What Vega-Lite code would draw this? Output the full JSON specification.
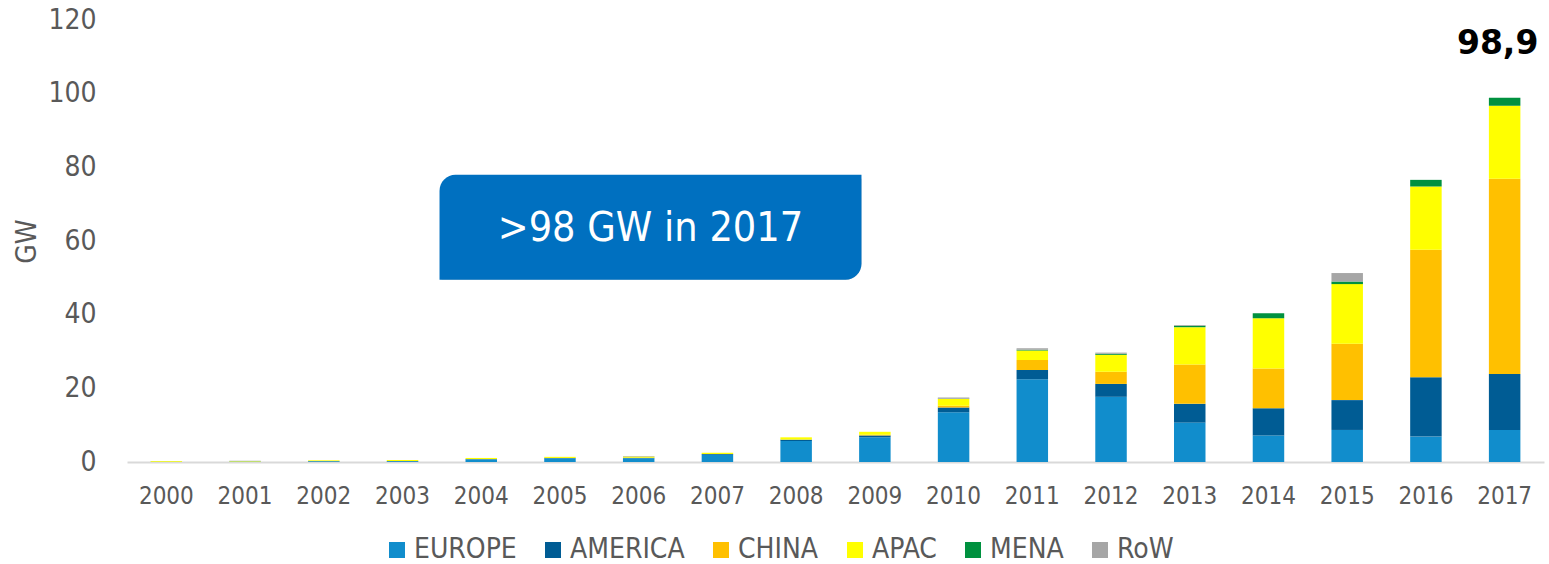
{
  "$schema": "https://vega.github.io/schema/vega-lite/v6.json",
  "autosize": {"type": "none"},
  "width": 1417,
  "height": 442,
  "padding": {"left": 127, "top": 20, "right": 5, "bottom": 102},
  "background": "white",
  "config": {
    "view": {"stroke": null},
    "font": "DejaVu Sans Condensed"
  },
  "datasets": {
    "pv": [
      {"year": "2000", "region": "EUROPE", "o": 1, "gw": 0.1},
      {"year": "2000", "region": "APAC", "o": 4, "gw": 0.15},
      {"year": "2000", "region": "RoW", "o": 6, "gw": 0.05},
      {"year": "2001", "region": "EUROPE", "o": 1, "gw": 0.15},
      {"year": "2001", "region": "APAC", "o": 4, "gw": 0.15},
      {"year": "2001", "region": "RoW", "o": 6, "gw": 0.05},
      {"year": "2002", "region": "EUROPE", "o": 1, "gw": 0.2},
      {"year": "2002", "region": "AMERICA", "o": 2, "gw": 0.05},
      {"year": "2002", "region": "APAC", "o": 4, "gw": 0.2},
      {"year": "2003", "region": "EUROPE", "o": 1, "gw": 0.2},
      {"year": "2003", "region": "AMERICA", "o": 2, "gw": 0.1},
      {"year": "2003", "region": "APAC", "o": 4, "gw": 0.25},
      {"year": "2004", "region": "EUROPE", "o": 1, "gw": 0.7},
      {"year": "2004", "region": "AMERICA", "o": 2, "gw": 0.1},
      {"year": "2004", "region": "APAC", "o": 4, "gw": 0.3},
      {"year": "2005", "region": "EUROPE", "o": 1, "gw": 1.0},
      {"year": "2005", "region": "AMERICA", "o": 2, "gw": 0.1},
      {"year": "2005", "region": "APAC", "o": 4, "gw": 0.3},
      {"year": "2006", "region": "EUROPE", "o": 1, "gw": 1.0},
      {"year": "2006", "region": "AMERICA", "o": 2, "gw": 0.15},
      {"year": "2006", "region": "APAC", "o": 4, "gw": 0.35},
      {"year": "2006", "region": "RoW", "o": 6, "gw": 0.1},
      {"year": "2007", "region": "EUROPE", "o": 1, "gw": 2.0},
      {"year": "2007", "region": "AMERICA", "o": 2, "gw": 0.2},
      {"year": "2007", "region": "APAC", "o": 4, "gw": 0.3},
      {"year": "2008", "region": "EUROPE", "o": 1, "gw": 5.7},
      {"year": "2008", "region": "AMERICA", "o": 2, "gw": 0.35},
      {"year": "2008", "region": "CHINA", "o": 3, "gw": 0.05},
      {"year": "2008", "region": "APAC", "o": 4, "gw": 0.6},
      {"year": "2009", "region": "EUROPE", "o": 1, "gw": 6.7},
      {"year": "2009", "region": "AMERICA", "o": 2, "gw": 0.5},
      {"year": "2009", "region": "CHINA", "o": 3, "gw": 0.2},
      {"year": "2009", "region": "APAC", "o": 4, "gw": 0.8},
      {"year": "2010", "region": "EUROPE", "o": 1, "gw": 13.5},
      {"year": "2010", "region": "AMERICA", "o": 2, "gw": 1.3},
      {"year": "2010", "region": "CHINA", "o": 3, "gw": 0.5},
      {"year": "2010", "region": "APAC", "o": 4, "gw": 1.8},
      {"year": "2010", "region": "MENA", "o": 5, "gw": 0.1},
      {"year": "2010", "region": "RoW", "o": 6, "gw": 0.3},
      {"year": "2011", "region": "EUROPE", "o": 1, "gw": 22.5},
      {"year": "2011", "region": "AMERICA", "o": 2, "gw": 2.5},
      {"year": "2011", "region": "CHINA", "o": 3, "gw": 2.7},
      {"year": "2011", "region": "APAC", "o": 4, "gw": 2.6},
      {"year": "2011", "region": "MENA", "o": 5, "gw": 0.2},
      {"year": "2011", "region": "RoW", "o": 6, "gw": 0.4},
      {"year": "2012", "region": "EUROPE", "o": 1, "gw": 17.7},
      {"year": "2012", "region": "AMERICA", "o": 2, "gw": 3.5},
      {"year": "2012", "region": "CHINA", "o": 3, "gw": 3.3},
      {"year": "2012", "region": "APAC", "o": 4, "gw": 4.6},
      {"year": "2012", "region": "MENA", "o": 5, "gw": 0.3},
      {"year": "2012", "region": "RoW", "o": 6, "gw": 0.3},
      {"year": "2013", "region": "EUROPE", "o": 1, "gw": 10.7},
      {"year": "2013", "region": "AMERICA", "o": 2, "gw": 5.1},
      {"year": "2013", "region": "CHINA", "o": 3, "gw": 10.7},
      {"year": "2013", "region": "APAC", "o": 4, "gw": 10.1},
      {"year": "2013", "region": "MENA", "o": 5, "gw": 0.4},
      {"year": "2013", "region": "RoW", "o": 6, "gw": 0.2},
      {"year": "2014", "region": "EUROPE", "o": 1, "gw": 7.2},
      {"year": "2014", "region": "AMERICA", "o": 2, "gw": 7.4},
      {"year": "2014", "region": "CHINA", "o": 3, "gw": 10.8},
      {"year": "2014", "region": "APAC", "o": 4, "gw": 13.6},
      {"year": "2014", "region": "MENA", "o": 5, "gw": 1.4},
      {"year": "2015", "region": "EUROPE", "o": 1, "gw": 8.7},
      {"year": "2015", "region": "AMERICA", "o": 2, "gw": 8.1},
      {"year": "2015", "region": "CHINA", "o": 3, "gw": 15.3},
      {"year": "2015", "region": "APAC", "o": 4, "gw": 16.2},
      {"year": "2015", "region": "MENA", "o": 5, "gw": 0.7},
      {"year": "2015", "region": "RoW", "o": 6, "gw": 2.3},
      {"year": "2016", "region": "EUROPE", "o": 1, "gw": 6.9},
      {"year": "2016", "region": "AMERICA", "o": 2, "gw": 16.1},
      {"year": "2016", "region": "CHINA", "o": 3, "gw": 34.6},
      {"year": "2016", "region": "APAC", "o": 4, "gw": 17.2},
      {"year": "2016", "region": "MENA", "o": 5, "gw": 1.8},
      {"year": "2017", "region": "EUROPE", "o": 1, "gw": 8.7},
      {"year": "2017", "region": "AMERICA", "o": 2, "gw": 15.2},
      {"year": "2017", "region": "CHINA", "o": 3, "gw": 53.0},
      {"year": "2017", "region": "APAC", "o": 4, "gw": 19.8},
      {"year": "2017", "region": "MENA", "o": 5, "gw": 2.2}
    ],
    "total": [
      {"year": "2017", "gw": 98.9, "label": "98,9"}
    ],
    "note": [
      {"text": ">98 GW in 2017"}
    ]
  },
  "layer": [
    {
      "layer": [
        {
          "data": {"name": "pv"},
          "mark": {"type": "bar"},
          "encoding": {
            "x": {
              "field": "year", "type": "ordinal",
              "scale": {"paddingInner": 0.6, "paddingOuter": 0.3},
              "axis": {
                "title": null, "labelAngle": 0, "ticks": false, "tickSize": 0,
                "domainColor": "#d9d9d9", "domainWidth": 2,
                "labelFontSize": 24, "labelColor": "#595959", "labelPadding": 22,
                "labelFont": "DejaVu Sans Condensed"
              }
            },
            "y": {
              "field": "gw", "type": "quantitative", "stack": "zero",
              "scale": {"domain": [0, 120], "nice": false},
              "axis": {
                "title": "GW", "values": [0, 20, 40, 60, 80, 100, 120],
                "grid": false, "domain": false, "ticks": false, "tickSize": 0,
                "labelFontSize": 28, "labelColor": "#595959", "labelPadding": 31,
                "labelFont": "DejaVu Sans Condensed",
                "titleFontSize": 28, "titleColor": "#595959", "titleFontWeight": "normal",
                "titleFont": "DejaVu Sans Condensed", "titlePadding": 6
              }
            },
            "color": {
              "field": "region", "type": "nominal",
              "scale": {
                "domain": ["EUROPE", "AMERICA", "CHINA", "APAC", "MENA", "RoW"],
                "range": ["#118dcc", "#005c94", "#ffc000", "#ffff00", "#00913f", "#a6a6a6"]
              },
              "legend": {
                "title": null, "orient": "none", "direction": "horizontal",
                "legendX": 256, "legendY": 516,
                "symbolType": "square", "symbolSize": 256, "symbolStrokeWidth": 0,
                "labelFontSize": 28, "labelColor": "#595959", "labelFont": "DejaVu Sans Condensed",
                "labelOffset": 3, "columnPadding": 22, "labelLimit": 300
              }
            },
            "order": {"field": "o", "type": "quantitative"}
          }
        },
        {
          "data": {"name": "total"},
          "mark": {"type": "text", "font": "DejaVu Sans", "fontWeight": "bold", "fontSize": 33, "color": "#000000", "baseline": "alphabetic", "dy": -44, "dx": -7},
          "encoding": {
            "x": {"field": "year", "type": "ordinal"},
            "y": {"field": "gw", "type": "quantitative"},
            "text": {"field": "label"}
          }
        }
      ]
    },
    {
      "data": {"name": "note"},
      "layer": [
        {
          "mark": {"type": "rect", "color": "#9a9a9a", "opacity": 0.45, "cornerRadiusTopLeft": 16, "cornerRadiusBottomRight": 16, "xOffset": 2, "yOffset": 4},
          "encoding": {
            "x": {"datum": 3.47, "type": "quantitative", "scale": {"domain": [-0.5, 17.5], "nice": false, "zero": false}, "axis": null},
            "x2": {"datum": 8.83},
            "y": {"datum": 78},
            "y2": {"datum": 49.5}
          }
        },
        {
          "mark": {"type": "rect", "color": "#0070c0", "cornerRadiusTopLeft": 16, "cornerRadiusBottomRight": 16},
          "encoding": {
            "x": {"datum": 3.47, "type": "quantitative", "scale": {"domain": [-0.5, 17.5], "nice": false, "zero": false}, "axis": null},
            "x2": {"datum": 8.83},
            "y": {"datum": 78},
            "y2": {"datum": 49.5}
          }
        },
        {
          "mark": {"type": "text", "color": "#ffffff", "font": "DejaVu Sans Condensed", "fontSize": 41, "align": "center", "baseline": "middle"},
          "encoding": {
            "x": {"datum": 6.15, "type": "quantitative", "scale": {"domain": [-0.5, 17.5], "nice": false, "zero": false}, "axis": null},
            "y": {"datum": 63.3},
            "text": {"field": "text"}
          }
        }
      ]
    }
  ],
  "resolve": {"scale": {"x": "independent"}, "axis": {"x": "independent"}}
}
